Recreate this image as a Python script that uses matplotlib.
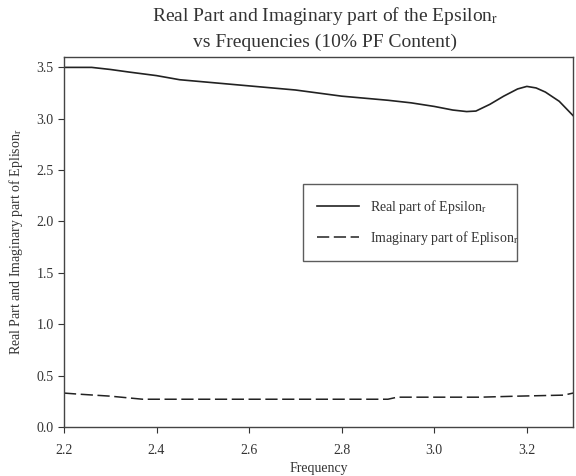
import numpy as np
import matplotlib
matplotlib.use('Agg')
import matplotlib.pyplot as plt

plt.rcParams['font.family'] = ['Liberation Serif', 'DejaVu Serif']
plt.rcParams['mathtext.fontset'] = 'stix'

# Real part of epsilon_r
freq_re = [2.20, 2.26, 2.30, 2.34, 2.40, 2.45, 2.50, 2.55, 2.60, 2.65, 2.70,
           2.75, 2.80, 2.85, 2.90, 2.95, 3.00, 3.04, 3.07, 3.09, 3.12, 3.15,
           3.18, 3.20, 3.22, 3.24, 3.27, 3.30]
eps_re = [3.50, 3.50, 3.48, 3.455, 3.42, 3.38, 3.36, 3.34, 3.32, 3.30, 3.28,
          3.25, 3.22, 3.20, 3.18, 3.155, 3.12, 3.085, 3.07, 3.075, 3.14, 3.22,
          3.29, 3.315, 3.30, 3.26, 3.17, 3.03]

# Imaginary part
freq_im = [2.20, 2.23, 2.30, 2.37, 2.50, 2.70, 2.90, 2.92, 3.10, 3.18, 3.28, 3.30]
eps_im = [0.33, 0.32, 0.30, 0.27, 0.27, 0.27, 0.27, 0.29, 0.29, 0.30, 0.31, 0.33]

xticks = [2.2, 2.4, 2.6, 2.8, 3.0, 3.2]
yticks = [0.0, 0.5, 1.0, 1.5, 2.0, 2.5, 3.0, 3.5]

fig = plt.figure(figsize=(5.76, 4.76), dpi=100)
ax = fig.add_axes([0.111, 0.103, 0.884, 0.777])

ax.plot(freq_re, eps_re, color='#222222', lw=1.2,
        label='Real part of Epsilon$_{\\mathrm{r}}$')
ax.plot(freq_im, eps_im, color='#222222', lw=1.1, dashes=(8, 3),
        label='Imaginary part of Eplison$_{\\mathrm{r}}$')

ax.set_xlim(2.2, 3.3)
ax.set_ylim(0, 3.6)
ax.set_xticks(xticks)
ax.set_yticks(yticks)
ax.set_xticklabels(['%.1f' % v for v in xticks])
ax.set_yticklabels(['%.1f' % v for v in yticks])
ax.tick_params(direction='out', length=4, labelsize=10, color='#333333',
               labelcolor='#333333')
ax.tick_params(axis='x', pad=8)
for s in ax.spines.values():
    s.set_color('#444444')
    s.set_linewidth(1.0)

ax.set_xlabel('Frequency', fontsize=10, color='#333333', labelpad=4)
ax.set_ylabel('Real Part and Imaginary part of Eplison$_{\\mathrm{r}}$',
              fontsize=10, color='#333333', labelpad=8)
fig.suptitle('Real Part and Imaginary part of the Epsilon$_{\\mathrm{r}}$\n'
             'vs Frequencies (10% PF Content)', fontsize=14, color='#333333',
             x=0.565, y=0.99, linespacing=1.5)

leg = ax.legend(loc='lower left', bbox_to_anchor=(0.47, 0.45, 0.42, 0.17),
                mode='expand', fontsize=10, frameon=True, fancybox=False,
                handlelength=3.0, borderpad=1.0, labelspacing=0.9,
                borderaxespad=0)
leg.get_frame().set_edgecolor('#333333')
leg.get_frame().set_linewidth(1.0)
for t in leg.get_texts():
    t.set_color('#333333')

fig.savefig('out.png', dpi=100)
